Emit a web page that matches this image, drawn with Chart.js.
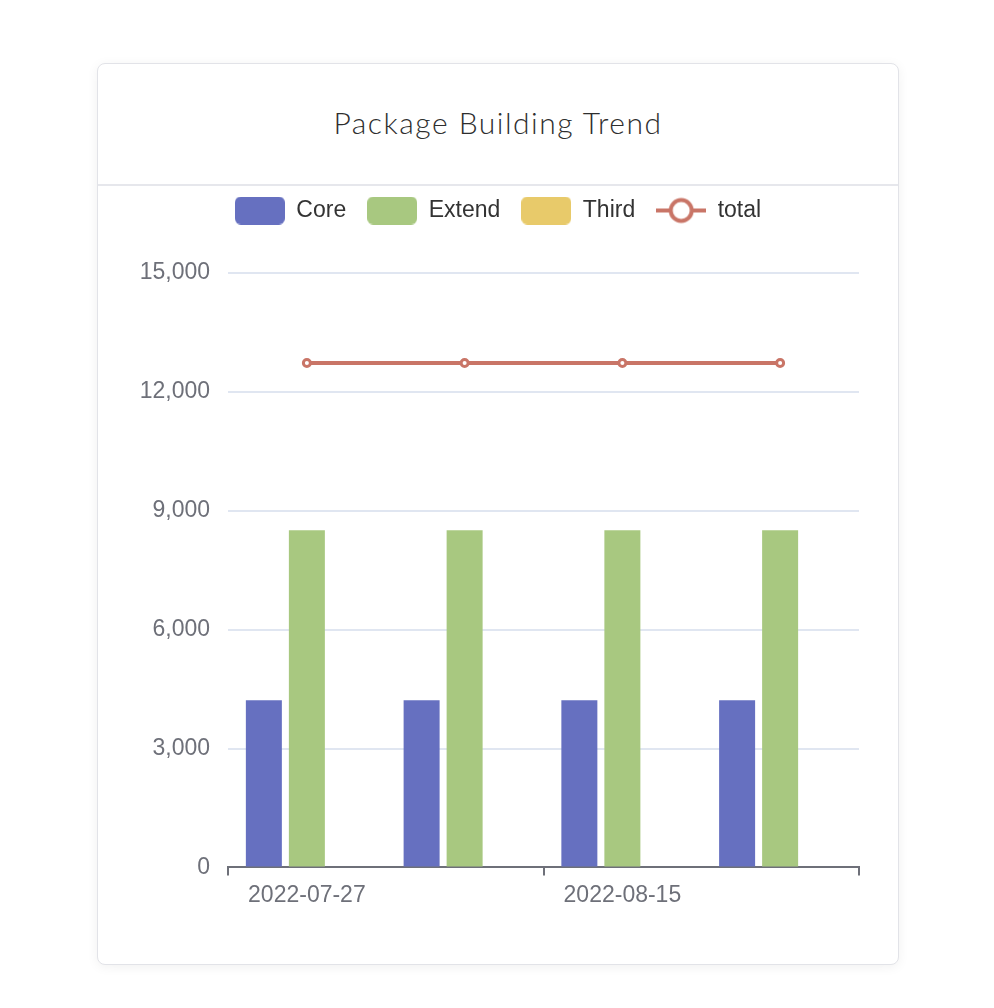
<!DOCTYPE html>
<html>
<head>
<meta charset="utf-8">
<script src="https://cdn.jsdelivr.net/npm/chart.js@4"></script>
<style>
  html, body { margin: 0; padding: 0; background: #ffffff; }
  body { width: 994px; height: 1008px; position: relative; overflow: hidden; }
  #card {
    position: absolute; left: 97px; top: 63px; width: 802px; height: 902px;
    box-sizing: border-box; border: 1px solid #e2e3e8; border-radius: 8px;
    background: #fff; box-shadow: 0 2px 12px rgba(0,0,0,0.06);
  }
  #header {
    position: absolute; left: 0; top: 0; width: 100%; height: 122px;
    border-bottom: 2px solid #e6e7ec; box-sizing: border-box;
    display: flex; align-items: center; justify-content: center;
    padding-bottom: 4px;
    font-family: Lato, "Open Sans", sans-serif; font-weight: 300;
    font-size: 30px; color: #2e2e2e; letter-spacing: 1.5px;
  }
  #wrap { position: absolute; left: 98px; top: 178px; width: 800px; height: 786px; }
</style>
</head>
<body>
<div id="card"><div id="header">Package Building Trend</div></div>
<div id="wrap"><canvas id="c"></canvas></div>
<script>
const categories = ['2022-07-27', '2022-08-05', '2022-08-15', '2022-08-25'];
const coreValues = [4220, 4220, 4220, 4220];
const extendValues = [8510, 8510, 8510, 8510];
const thirdValues = [0, 0, 0, 0];
const totalValues = [12730, 12730, 12730, 12730];
const seriesNames = ['Core', 'Extend', 'Third', 'total'];
const yTicks = { min: 0, max: 15000, step: 3000 };

const colors = ['#6670c0', '#a8c880', '#e8ca6a', '#c97567'];

function makeBoxIcon(color) {
  const c = document.createElement('canvas');
  c.width = 50; c.height = 28;
  const g = c.getContext('2d');
  g.fillStyle = color;
  g.beginPath();
  g.roundRect(0, 0, 50, 28, 6);
  g.fill();
  return c;
}
function makeLineIcon(color) {
  const c = document.createElement('canvas');
  c.width = 50; c.height = 28;
  const g = c.getContext('2d');
  g.strokeStyle = color;
  g.lineWidth = 4;
  g.beginPath(); g.moveTo(0, 14); g.lineTo(50, 14); g.stroke();
  g.beginPath(); g.arc(25, 14, 10.5, 0, Math.PI * 2);
  g.fillStyle = '#fff'; g.fill(); g.stroke();
  return c;
}
const icons = [makeBoxIcon(colors[0]), makeBoxIcon(colors[1]), makeBoxIcon(colors[2]), makeLineIcon(colors[3])];

const legendSpacer = {
  id: 'legendSpacer',
  beforeInit(chart) {
    const origFit = chart.legend.fit;
    chart.legend.fit = function () {
      origFit.bind(chart.legend)();
      this.height += 41;
    };
  }
};

const labelFont = { family: '"Liberation Sans", Arial, Helvetica, sans-serif', size: 23 };

new Chart(document.getElementById('c'), {
  data: {
    labels: categories,
    datasets: [
      { type: 'bar', label: seriesNames[0], data: coreValues, backgroundColor: colors[0], categoryPercentage: 0.818, barPercentage: 0.837 },
      { type: 'bar', label: seriesNames[1], data: extendValues, backgroundColor: colors[1], categoryPercentage: 0.818, barPercentage: 0.837 },
      { type: 'bar', label: seriesNames[2], data: thirdValues, backgroundColor: colors[2], categoryPercentage: 0.818, barPercentage: 0.837 },
      { type: 'line', label: seriesNames[3], data: totalValues, borderColor: colors[3], backgroundColor: '#ffffff',
        borderWidth: 4, pointRadius: 3.5, pointBorderWidth: 3, pointBackgroundColor: '#ffffff', pointBorderColor: colors[3] }
    ]
  },
  options: {
    responsive: true,
    maintainAspectRatio: false,
    animation: false,
    layout: { padding: { top: 0, left: 0, right: 0, bottom: 49 } },
    plugins: {
      tooltip: { enabled: false },
      legend: {
        position: 'top',
        labels: {
          usePointStyle: true,
          pointStyleWidth: 50,
          padding: 21,
          color: '#333333',
          font: labelFont,
          generateLabels(chart) {
            const items = Chart.defaults.plugins.legend.labels.generateLabels(chart);
            items.sort((a, b) => a.datasetIndex - b.datasetIndex);
            items.forEach((it) => { it.pointStyle = icons[it.datasetIndex]; });
            return items;
          }
        }
      }
    },
    scales: {
      x: {
        type: 'category',
        grid: {
          offset: true, drawOnChartArea: false, drawTicks: true, tickLength: 8,
          lineWidth: 2, tickWidth: 2,
          tickColor: (ctx) => (ctx.index === undefined || ctx.index % 2 === 0) ? '#6e7079' : 'rgba(0,0,0,0)'
        },
        border: { display: true, color: '#6e7079', width: 2 },
        ticks: {
          autoSkip: false, maxRotation: 0, padding: 6, color: '#6e7079', font: labelFont,
          callback: (v, i) => i % 2 === 0 ? categories[i] : ''
        }
      },
      y: {
        min: yTicks.min, max: yTicks.max,
        grid: { color: '#e0e6f1', lineWidth: 2, drawTicks: false },
        border: { display: false },
        ticks: { stepSize: yTicks.step, padding: 18, color: '#6e7079', font: labelFont },
        afterFit(scale) { scale.width = 130; }
      },
      y2: {
        position: 'right',
        display: true,
        grid: { display: false, drawTicks: false },
        border: { display: false },
        ticks: { display: false },
        afterFit(scale) { scale.width = 39; }
      }
    }
  },
  plugins: [legendSpacer]
});
</script>
</body>
</html>
